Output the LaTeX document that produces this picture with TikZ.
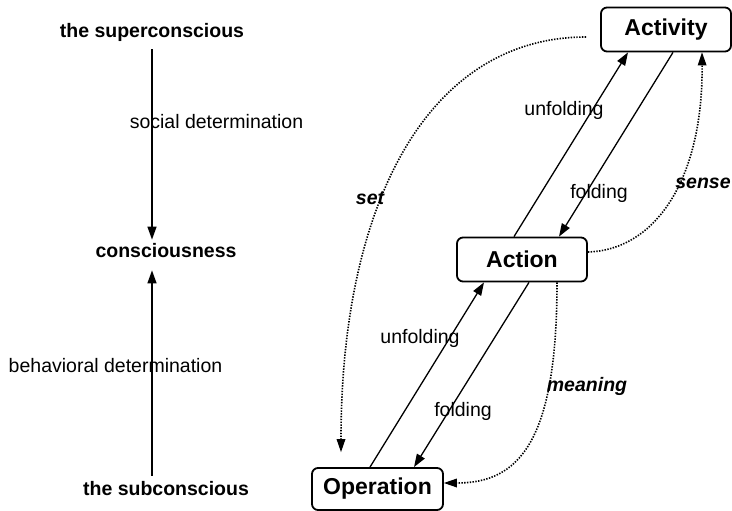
\documentclass[tikz,border=0pt]{standalone}
\usepackage{fontspec}
\setmainfont{Liberation Sans}
\usetikzlibrary{arrows.meta}
\tikzset{
  lbl/.style={font=\fontsize{19.5}{23}\selectfont, inner sep=1pt},
  blbl/.style={font=\fontsize{19.5}{23}\selectfont\bfseries, inner sep=3pt},
  ilbl/.style={font=\fontsize{19.5}{23}\selectfont\bfseries\itshape, inner sep=1pt},
  box/.style={draw, line width=1.8pt, rounded corners=6pt, minimum width=130pt, minimum height=44pt, inner sep=0pt, font=\fontsize{23}{27}\selectfont\bfseries},
  conn/.style={line width=1.3pt, -{Triangle[length=13pt,width=9pt]}},
  dconn/.style={line width=1.6pt, dash pattern=on 1.4pt off 1.4pt, -{Triangle[length=13pt,width=9pt,line width=0pt]}},
}
\begin{document}
\begin{tikzpicture}[x=1pt,y=-1pt]
\useasboundingbox (0,0) rectangle (732,511);
% left column
\node[blbl] (sup) at (152,32) {the superconscious};
\node[blbl] (cons) at (166,251) {consciousness};
\node[blbl] (sub) at (166,489) {the subconscious};
\draw[conn, shorten <=5pt, shorten >=1pt] (sup.south) -- (sup.south |- cons.north);
\draw[conn, shorten <=3pt, shorten >=9pt] (sup.south |- sub.north) -- (sup.south |- cons.south);
\node[lbl] (soc) at (216.5,122) {social determination};
\node[lbl] (beh) at (115.5,366) {behavioral determination};
% right part
\node[box] (activity) at (666,29.5) {Activity};
\node[box] (action) at (522,259.5) {Action};
\node[box, minimum height=42pt, minimum width=131pt] (operation) at (377.5,489) {Operation};
% solid arrows
\draw[conn] ([xshift=-8pt]action.north) -- ([xshift=-38pt]activity.south);
\draw[conn] ([xshift=7pt]activity.south) -- ([xshift=37pt]action.north);
\draw[conn] ([xshift=-7.5pt]operation.north) -- ([xshift=-38pt]action.south);
\draw[conn] ([xshift=7pt]action.south) -- ([xshift=36.5pt]operation.north);
\node[lbl] (unf1) at (564,110) {unfolding};
\node[lbl] (fol1) at (599,193) {folding};
\node[lbl] (unf2) at (420,338) {unfolding};
\node[lbl] (fol2) at (463,411) {folding};
% dotted arrows
\draw[dconn, shorten <=14pt, shorten >=15pt] ([yshift=-7.5pt]activity.west) .. controls (430,37) and (341,200) .. ([xshift=-36.5pt]operation.north);
\draw[dconn] ([yshift=7.5pt]action.east) .. controls (655,250) and (703,180) .. ([xshift=36pt]activity.south);
\draw[dconn] ([xshift=35pt]action.south) .. controls (557,440) and (520,483) .. ([yshift=6pt]operation.east);
\node[ilbl] (set) at (370,198) {set};
\node[ilbl] (sense) at (703,183) {sense};
\node[ilbl] (meaning) at (587,386) {meaning};
\end{tikzpicture}
\end{document}
